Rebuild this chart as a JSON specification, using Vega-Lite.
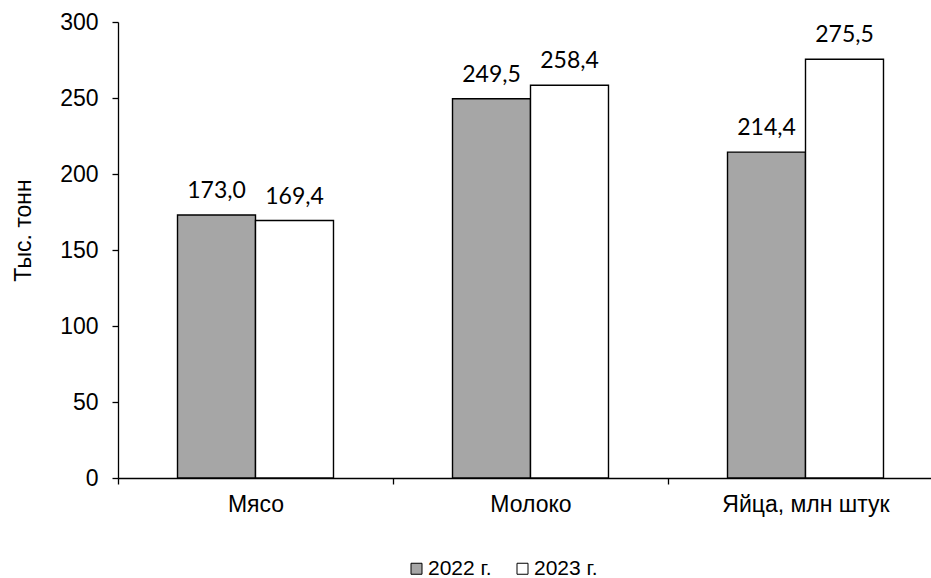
{
  "$schema": "https://vega.github.io/schema/vega-lite/v6.json",
  "autosize": {"type": "none"},
  "width": 813,
  "height": 456,
  "padding": {"left": 118, "top": 22, "right": 0, "bottom": 100},
  "background": "#ffffff",
  "config": {
    "view": {"stroke": null},
    "axis": {
      "labelFont": "Liberation Sans",
      "titleFont": "Liberation Sans",
      "labelColor": "#000000",
      "titleColor": "#000000",
      "domainColor": "#000000",
      "tickColor": "#000000",
      "domainWidth": 1.3,
      "tickWidth": 1.3
    }
  },
  "data": {
    "values": [
      {"product": "Мясо", "year": "2022 г.", "value": 173.0, "label": "173,0"},
      {"product": "Мясо", "year": "2023 г.", "value": 169.4, "label": "169,4"},
      {"product": "Молоко", "year": "2022 г.", "value": 249.5, "label": "249,5"},
      {"product": "Молоко", "year": "2023 г.", "value": 258.4, "label": "258,4"},
      {"product": "Яйца, млн штук", "year": "2022 г.", "value": 214.4, "label": "214,4"},
      {"product": "Яйца, млн штук", "year": "2023 г.", "value": 275.5, "label": "275,5"}
    ]
  },
  "encoding": {
    "x": {
      "field": "product",
      "type": "nominal",
      "sort": null,
      "scale": {"padding": 0, "range": [0, 825]},
      "axis": {
        "title": null,
        "labelAngle": 0,
        "labelFontSize": 23,
        "labelPadding": 9,
        "tickBand": "extent",
        "tickSize": 6
      }
    },
    "xOffset": {
      "field": "year",
      "type": "nominal",
      "sort": null,
      "scale": {"paddingInner": 0, "paddingOuter": 0.763}
    },
    "y": {
      "field": "value",
      "type": "quantitative",
      "scale": {"domain": [0, 300], "nice": false},
      "axis": {
        "title": "Тыс. тонн",
        "titleFontSize": 23,
        "titleFontWeight": "normal",
        "titleBaseline": "alphabetic",
        "titleAngle": 270,
        "titleX": -88,
        "titleY": 208,
        "values": [0, 50, 100, 150, 200, 250, 300],
        "grid": false,
        "labelFontSize": 23,
        "labelPadding": 14,
        "tickSize": 6
      }
    }
  },
  "layer": [
    {
      "mark": {"type": "bar", "stroke": "#000000", "strokeWidth": 1.4},
      "encoding": {
        "color": {
          "field": "year",
          "type": "nominal",
          "scale": {"domain": ["2022 г.", "2023 г."], "range": ["#a6a6a6", "#ffffff"]},
          "legend": {
            "title": null,
            "orient": "none",
            "direction": "horizontal",
            "legendX": 288,
            "legendY": 536,
            "padding": 0,
            "symbolType": "square",
            "symbolSize": 121,
            "symbolStrokeColor": "#000000",
            "symbolStrokeWidth": 1,
            "labelFont": "Liberation Sans",
            "labelFontSize": 21,
            "labelColor": "#000000",
            "labelOffset": 1,
            "columnPadding": 20
          }
        }
      }
    },
    {
      "mark": {"type": "text", "font": "Lato", "fontSize": 23, "baseline": "alphabetic", "dy": -17, "color": "#000000"},
      "encoding": {
        "text": {"field": "label", "type": "nominal"}
      }
    }
  ]
}
